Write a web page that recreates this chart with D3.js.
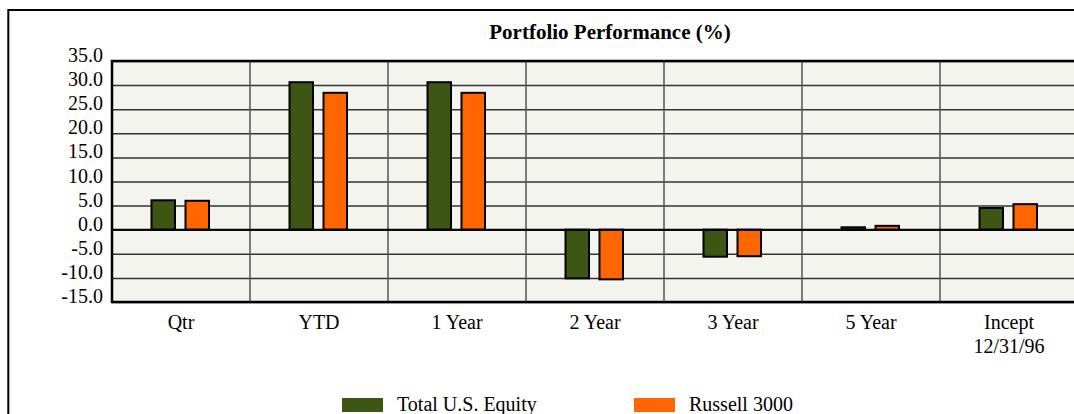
<!DOCTYPE html>
<html>
<head>
<meta charset="utf-8">
<script src="https://cdn.jsdelivr.net/npm/d3@7"></script>
<style>
  body { margin: 0; background: #fff; }
  text { font-family: "Liberation Serif", "Times New Roman", serif; fill: #000; }
</style>
</head>
<body>
<svg id="container"></svg>
<script>
var categories = ["Qtr", "YTD", "1 Year", "2 Year", "3 Year", "5 Year", "Incept\n12/31/96"];
var seriesNames = ["Total U.S. Equity", "Russell 3000"];
var equityValues = [6.1, 30.6, 30.6, -10.1, -5.6, 0.5, 4.5];
var russellValues = [6.0, 28.4, 28.4, -10.3, -5.5, 0.8, 5.3];
var yTicks = [35, 30, 25, 20, 15, 10, 5, 0, -5, -10, -15];
var colors = ["#3d5614", "#ff6600"];

function drawChart(){
    const W = 1074, H = 414;
    const plot = {left: 112, top: 61, bottom: 302, right: 1078};

    var svg = d3.select("#container")
        .attr("width", W)
        .attr("height", H);

    //outer frame
    svg.append("rect")
        .attr("x", 8.3).attr("y", 10)
        .attr("width", W + 20).attr("height", H + 20)
        .attr("fill", "none")
        .attr("stroke", "#000")
        .attr("stroke-width", 2);

    var xScale = d3.scaleBand().domain(categories).range([plot.left, plot.right]);
    var xInner = d3.scaleBand().domain(seriesNames).range([39.5, 97]).paddingInner(0.309).paddingOuter(0);
    var yScale = d3.scaleLinear().domain([-15, 35]).range([plot.bottom, plot.top]);
    // plain hyphen for negatives, like the original
    var fmt = d => d3.format(".1f")(d).replace("\u2212", "-");

    //plot background
    svg.append("rect")
        .attr("x", plot.left).attr("y", plot.top)
        .attr("width", plot.right - plot.left)
        .attr("height", plot.bottom - plot.top)
        .attr("fill", "#f4f4ef");

    //horizontal gridlines
    svg.append("g")
        .attr("class", "grid")
        .attr("transform", "translate(" + plot.left + ",0)")
        .call(d3.axisLeft(yScale).tickValues(yTicks).tickSize(-(plot.right - plot.left)).tickFormat(""))
        .call(g => g.select(".domain").remove())
        .call(g => g.selectAll(".tick line").attr("stroke", "#333").attr("stroke-width", 1.5));

    //vertical category separators
    svg.append("g")
        .selectAll("line")
        .data(categories.slice(1))
        .enter()
        .append("line")
        .attr("x1", d => xScale(d)).attr("x2", d => xScale(d))
        .attr("y1", plot.top).attr("y2", plot.bottom)
        .attr("stroke", "#555")
        .attr("stroke-width", 1.5);

    //bars
    var rows = categories.map((c, i) => ({cat: c, values: [equityValues[i], russellValues[i]]}));
    var groups = svg.append("g")
        .selectAll("g")
        .data(rows)
        .enter()
        .append("g")
        .attr("transform", d => "translate(" + xScale(d.cat) + ",0)");

    groups.selectAll("rect")
        .data(d => d.values.map((v, j) => ({name: seriesNames[j], value: v, idx: j})))
        .enter()
        .append("rect")
        .attr("x", d => xInner(d.name))
        .attr("width", xInner.bandwidth())
        .attr("y", d => yScale(Math.max(0, d.value)))
        .attr("height", d => Math.abs(yScale(d.value) - yScale(0)))
        .attr("fill", d => colors[d.idx])
        .attr("stroke", "#000")
        .attr("stroke-width", 2);

    //zero line
    svg.append("line")
        .attr("x1", plot.left).attr("x2", plot.right)
        .attr("y1", yScale(0)).attr("y2", yScale(0))
        .attr("stroke", "#000")
        .attr("stroke-width", 2);

    //plot border
    svg.append("rect")
        .attr("x", plot.left).attr("y", plot.top)
        .attr("width", plot.right - plot.left)
        .attr("height", plot.bottom - plot.top)
        .attr("fill", "none")
        .attr("stroke", "#000")
        .attr("stroke-width", 2.5);

    //y labels
    svg.append("g")
        .selectAll("text")
        .data(yTicks)
        .enter()
        .append("text")
        .attr("x", 103)
        .attr("y", d => yScale(d) + 1)
        .attr("text-anchor", "end")
        .style("font-size", "20px")
        .text(fmt);

    //x labels
    svg.append("g")
        .selectAll("text")
        .data(categories)
        .enter()
        .append("text")
        .attr("x", d => xScale(d) + xScale.bandwidth() / 2)
        .attr("y", 329)
        .attr("text-anchor", "middle")
        .style("font-size", "20px")
        .each(function(d){
            var lines = d.split("\n");
            d3.select(this).selectAll("tspan")
                .data(lines)
                .enter()
                .append("tspan")
                .attr("x", xScale(d) + xScale.bandwidth() / 2)
                .attr("dy", (l, i) => i === 0 ? 0 : 24)
                .text(l => l);
        });

    //title
    svg.append("text")
        .attr("x", 610)
        .attr("y", 39)
        .attr("text-anchor", "middle")
        .style("font-size", "21px")
        .style("font-weight", "bold")
        .text("Portfolio Performance (%)");

    //legend
    var legendX = [342, 634];
    var legend = svg.append("g")
        .selectAll("g")
        .data(seriesNames)
        .enter()
        .append("g")
        .attr("transform", (d, i) => "translate(" + legendX[i] + ",398)");
    legend.append("rect")
        .attr("width", 41).attr("height", 14)
        .attr("fill", (d, i) => colors[i]);
    legend.append("text")
        .attr("x", 55).attr("y", 13)
        .style("font-size", "20px")
        .text(d => d);
}

drawChart();
</script>
</body>
</html>
